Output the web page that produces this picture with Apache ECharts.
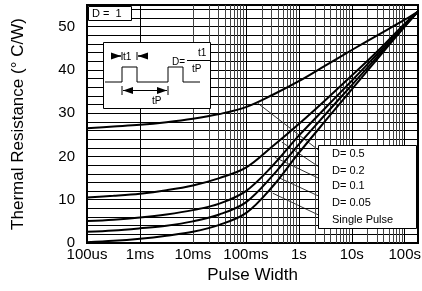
<!DOCTYPE html>
<html><head><meta charset="utf-8">
<script src="https://cdn.jsdelivr.net/npm/echarts@6/dist/echarts.min.js"></script>
<style>html,body{margin:0;padding:0;background:#fff}#c{width:422px;height:291px}</style>
</head><body><div id="c"></div>
<script>
// Pulse width (s), log axis
const pulseWidth = [1e-4, 3.16e-4, 1e-3, 3.16e-3, 1e-2, 3.16e-2, 0.1, 0.316, 1, 3.16, 10, 31.6, 100, 178];
// Thermal resistance (°C/W)
const dutyHalf    = [26.5, 26.9, 27.3, 27.9, 28.7, 29.8, 31.4, 34.2, 37.4, 41.0, 44.6, 48.1, 51.6, 53.5];
const dutyFifth   = [10.5, 10.9, 11.4, 12.2, 13.3, 15.0, 17.4, 22.3, 27.5, 33.0, 38.7, 44.5, 50.7, 53.5];
const dutyTenth   = [5.1, 5.4, 5.9, 6.6, 7.6, 9.1, 12.0, 17.8, 24.8, 31.2, 37.5, 43.9, 50.3, 53.5];
const dutyTwenty  = [2.6, 2.9, 3.4, 4.0, 5.0, 6.6, 9.4, 15.5, 22.8, 29.7, 36.5, 43.3, 50.1, 53.5];
const singlePulse = [0.2, 0.5, 1.0, 1.7, 2.6, 4.2, 6.9, 13.0, 20.8, 28.2, 35.5, 42.8, 50.0, 53.5];
const seriesNames = ['D= 0.5', 'D= 0.2', 'D= 0.1', 'D= 0.05', 'Single Pulse'];
const xTickLabels = {'-4': '100us', '-3': '1ms', '-2': '10ms', '-1': '100ms', '0': '1s', '1': '10s', '2': '100s'};
const yTickLabels = [0, 10, 20, 30, 40, 50];
// leader lines: [start near curve, end at label]  (data coordinates)
const leaderStart = [[0.168, 32.3], [0.478, 23.3], [0.352, 19.8], [0.402, 15.2], [0.323, 11.5]];
const leaderEnd   = [[2.84, 20.7], [2.84, 17.0], [2.84, 14.5], [2.84, 10.4], [2.84, 6.0]];

const xMin = 1e-4, xMax = 178;
const FONT = '"Liberation Sans", Arial, sans-serif';

const minorX = [];
for (let d = -4; d <= 2; d++) for (let k = 2; k <= 9; k++) {
  const v = k * Math.pow(10, d);
  if (v < xMax) minorX.push({xAxis: v});
}

const curves = [dutyHalf, dutyFifth, dutyTenth, dutyTwenty, singlePulse];
const series = curves.map((vals, i) => ({
  name: seriesNames[i], type: 'line', zlevel: 2, z: 10, smooth: 0.35, showSymbol: false, silent: true,
  lineStyle: {color: '#000', width: 2},
  data: pulseWidth.map((x, j) => [x, vals[j]]),
  markLine: {
    silent: true, symbol: 'none', animation: false,
    lineStyle: {color: '#000', width: 0.8, type: 'solid'}, label: {show: false},
    data: [[{coord: leaderStart[i]}, {coord: leaderEnd[i]}]]
  }
}));
series.push({
  type: 'line', zlevel: 0, z: 1, data: [], silent: true,
  markLine: {silent: true, symbol: 'none', animation: false, label: {show: false},
    lineStyle: {color: '#444', width: 1, type: 'solid'}, data: minorX}
});

const chart = echarts.init(document.getElementById('c'), null, {renderer: 'canvas'});
const txt = (x, y, s, size) => ({type: 'text', zlevel: 2, z: 12, x, y,
  style: {text: s, fill: '#000', font: size + 'px ' + FONT, textVerticalAlign: 'middle'}});
const line = (pts, w) => ({type: 'polyline', zlevel: 2, z: 12, shape: {points: pts}, style: {stroke: '#000', lineWidth: w || 1, fill: null}});
const tri = (pts) => ({type: 'polygon', zlevel: 2, z: 12, shape: {points: pts}, style: {fill: '#000'}});
const box = (x, y, w, h) => ({type: 'rect', zlevel: 1, z: 5, shape: {x, y, width: w, height: h}, style: {fill: '#fff', stroke: '#000', lineWidth: 1}});

chart.setOption({
  animation: false,
  backgroundColor: '#fff',
  grid: {left: 87, right: 4, top: 5, bottom: 48, containLabel: false, outerBoundsMode: 'none',
    show: true, borderColor: '#000', borderWidth: 2},
  xAxis: {
    type: 'log', logBase: 10, min: xMin, max: xMax, splitNumber: 7,
    name: 'Pulse Width', nameLocation: 'middle', nameGap: 24,
    nameTextStyle: {fontSize: 17, fontFamily: FONT, color: '#000'},
    axisLine: {show: true, lineStyle: {color: '#000', width: 2}},
    axisTick: {show: false},
    axisLabel: {fontSize: 15, fontFamily: FONT, color: '#000', margin: 4, showMaxLabel: false,
      formatter: v => { const e = Math.round(Math.log10(v)); return Math.abs(Math.log10(v) - e) < 1e-6 && xTickLabels[e] ? xTickLabels[e] : ''; }},
    splitLine: {show: true, lineStyle: {color: '#000', width: 1}}
  },
  yAxis: {
    type: 'value', min: 0, max: 55, interval: 2,
    name: 'Thermal Resistance (° C/W)', nameLocation: 'middle', nameGap: 60,
    nameTextStyle: {fontSize: 17, fontFamily: FONT, color: '#000'},
    axisLine: {show: true, lineStyle: {color: '#000', width: 2}},
    axisTick: {show: false},
    axisLabel: {fontSize: 15, fontFamily: FONT, color: '#000', margin: 12, showMaxLabel: false,
      formatter: v => yTickLabels.includes(v) ? String(v) : ''},
    splitLine: {show: true, lineStyle: {color: '#000', width: 1}}
  },
  series: series,
  graphic: [
    // D = 1 box
    box(88.5, 6.5, 43, 14),
    txt(92, 13.5, 'D =  1', 11),
    // inset box
    box(103.5, 42.5, 107, 66),
    line([[105, 82], [122, 82], [122, 67], [137, 67], [137, 82], [168, 82], [168, 67], [183, 67], [183, 82], [200, 82]]),
    // t1 arrows
    line([[111, 56], [121, 56]], 1.5), tri([[111, 52.5], [111, 59.5], [121, 56]]),
    line([[122, 52], [122, 60]]),
    txt(123, 57, 't1', 10),
    line([[138, 56], [148, 56]], 1.5), tri([[148, 52.5], [148, 59.5], [138, 56]]),
    line([[137, 52], [137, 60]]),
    // tP arrow
    line([[122, 86], [122, 95]]), line([[168, 86], [168, 95]]),
    line([[123, 90.5], [167, 90.5]]),
    tri([[123, 90.5], [133, 87], [133, 94]]), tri([[167, 90.5], [157, 87], [157, 94]]),
    txt(152, 101, 'tP', 10),
    // D = t1/tP
    txt(172, 62, 'D=', 10),
    txt(198, 53, 't1', 10),
    line([[187, 60.5], [210, 60.5]]),
    txt(192, 69, 'tP', 10),
    // legend box
    box(318.5, 145.5, 98, 83),
    txt(332, 154, seriesNames[0], 11),
    txt(332, 171, seriesNames[1], 11),
    txt(332, 186, seriesNames[2], 11),
    txt(332, 203, seriesNames[3], 11),
    txt(332, 220, seriesNames[4], 11)
  ]
});
</script></body></html>
